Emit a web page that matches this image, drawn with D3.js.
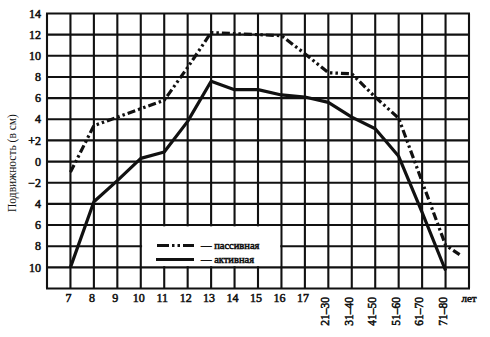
<!DOCTYPE html>
<html>
<head>
<meta charset="utf-8">
<script src="https://cdn.jsdelivr.net/npm/d3@7"></script>
<style>
  html, body { margin: 0; padding: 0; background: #fff; }
  svg { display: block; }
</style>
</head>
<body>
<svg id="chart" width="490" height="337"></svg>
<script>
// Age groups along the bottom axis
const ageLabels = ["7", "8", "9", "10", "11", "12", "13", "14", "15", "16", "17",
                   "21–30", "31–40", "41–50", "51–60", "61–70", "71–80"];
const unitLabel = "лет";

// Mobility (cm) for each age group
const activeValues  = [-10, -3.8, -1.8, 0.3, 0.9, 3.8, 7.6, 6.8, 6.8, 6.3, 6.1,
                       5.6, 4.2, 3.1, 0.5, -4.8, -10.3];
const passiveValues = [-1.0, 3.4, 4.2, 5.0, 5.8, 8.9, 12.2, 12.1, 12.0, 11.9, 10.2,
                       8.4, 8.3, 6.1, 4.1, -1.9, -7.9];
// passive curve continues a little past the last age group
const passiveTailValue = -8.8;

// Vertical axis ticks and their printed labels
const yTickValues = [14, 12, 10, 8, 6, 4, 2, 0, -2, -4, -6, -8, -10];
const yTickLabels = ["14", "12", "10", "8", "6", "4", "+2", "0", "−2", "4", "6", "8", "10"];

const legendNames = ["— пассивная", "— активная"];
const axisTitle = "Подвижность (в см)";

const FONT = "'Liberation Serif', 'Times New Roman', serif";
const INK = "#111";

const svg = d3.select("#chart");

const x = d3.scaleLinear().domain([0, ageLabels.length + 1]).range([47, 469]);
const y = d3.scaleLinear().domain([-12, 14]).range([288.5, 13.5]);

const passiveDash = "8,3,2.5,3,2.5,3";

// heavy serif labels: regular face thickened with an outline
function heavy(sel, size) {
  return sel.attr("font-family", FONT)
    .attr("font-size", size)
    .attr("fill", INK)
    .attr("stroke", INK)
    .attr("stroke-width", 0.55)
    .attr("paint-order", "stroke");
}

// grid
const g = svg.append("g");
g.selectAll("line.v")
  .data(d3.range(0, ageLabels.length + 2))
  .join("line")
  .attr("x1", d => x(d)).attr("x2", d => x(d))
  .attr("y1", y(14)).attr("y2", y(-12))
  .attr("stroke", INK).attr("stroke-width", 2.1);
g.selectAll("line.h")
  .data(d3.range(-12, 15, 2))
  .join("line")
  .attr("x1", x(0) - 1).attr("x2", x(ageLabels.length + 1) + 1)
  .attr("y1", d => y(d)).attr("y2", d => y(d))
  .attr("stroke", INK).attr("stroke-width", 2.1);

// legend panel clears the grid inside two rows
const lx0 = x(4), lx1 = x(10), ly0 = y(-6), ly1 = y(-10);
svg.append("rect")
  .attr("x", lx0 + 1.3).attr("y", ly0 + 1.3)
  .attr("width", lx1 - lx0 - 2.6).attr("height", ly1 - ly0 - 2.6)
  .attr("fill", "#fff");

const legendY = [245.5, 259.5];
svg.append("line")
  .attr("x1", 157).attr("x2", 194).attr("y1", legendY[0]).attr("y2", legendY[0])
  .attr("stroke", INK).attr("stroke-width", 3).attr("stroke-dasharray", "12,3,2.5,3,2.5,3");
svg.append("line")
  .attr("x1", 156).attr("x2", 194).attr("y1", legendY[1]).attr("y2", legendY[1])
  .attr("stroke", INK).attr("stroke-width", 3);
svg.selectAll("text.leg")
  .data(legendNames)
  .join("text")
  .attr("x", 201).attr("y", (d, i) => legendY[i] + 3.5)
  .call(heavy, 10.5)
  .text(d => d);

// data lines
const line = d3.line().x(d => x(d[0])).y(d => y(d[1]));
const activePts = activeValues.map((v, i) => [i + 1, v]);
const passivePts = passiveValues.map((v, i) => [i + 1, v]);
passivePts.push([ageLabels.length + 0.6, passiveTailValue]);

svg.append("path")
  .attr("d", line(passivePts))
  .attr("fill", "none").attr("stroke", INK).attr("stroke-width", 3.2)
  .attr("stroke-dasharray", passiveDash);
svg.append("path")
  .attr("d", line(activePts))
  .attr("fill", "none").attr("stroke", INK).attr("stroke-width", 3.2)
  .attr("stroke-linejoin", "round");

// y tick labels
svg.selectAll("text.yt")
  .data(yTickValues)
  .join("text")
  .attr("x", 41).attr("y", d => y(d))
  .attr("dy", "0.35em")
  .attr("text-anchor", "end")
  .call(heavy, 12)
  .text((d, i) => yTickLabels[i]);

// x tick labels: single ages upright, age ranges rotated
ageLabels.forEach((lab, i) => {
  const px = x(i + 1);
  if (lab.includes("–")) {
    svg.append("text")
      .attr("transform", `translate(${px + 1},297) rotate(-90)`)
      .attr("text-anchor", "end")
      .call(heavy, 11.5)
      .text(lab);
  } else {
    svg.append("text")
      .attr("x", px - 2).attr("y", 302)
      .attr("text-anchor", "middle")
      .call(heavy, 12)
      .text(lab);
  }
});
svg.append("text")
  .attr("x", x(ageLabels.length + 1)).attr("y", 302)
  .attr("text-anchor", "middle")
  .call(heavy, 11)
  .text(unitLabel);

// axis title
svg.append("text")
  .attr("transform", "translate(15.5,163) rotate(-90)")
  .attr("text-anchor", "middle")
  .attr("font-family", FONT).attr("fill", INK)
  .attr("font-size", 11.5)
  .text(axisTitle);
</script>
</body>
</html>
